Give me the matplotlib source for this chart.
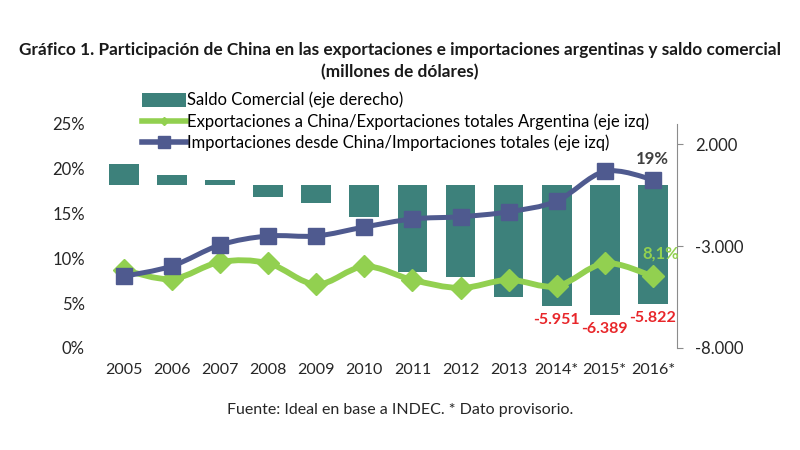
import numpy as np
import matplotlib
matplotlib.use("Agg")
import matplotlib.pyplot as plt
from matplotlib.path import Path
import matplotlib.patches as patches
from matplotlib.lines import Line2D
from matplotlib.ticker import FuncFormatter

# data
years = ["2005", "2006", "2007", "2008", "2009", "2010", "2011", "2012",
         "2013", "2014*", "2015*", "2016*"]
saldo = [1030, 490, 250, -580, -870, -1560, -4270, -4520, -5500, -5951, -6389, -5822]
expo_share = [8.7, 7.7, 9.6, 9.45, 7.1, 9.1, 7.6, 6.7, 7.6, 6.9, 9.45, 8.0]
impo_share = [8.0, 9.15, 11.5, 12.5, 12.5, 13.5, 14.4, 14.65, 15.2, 16.4, 19.7, 18.8]
saldo_labels = {9: "-5.951", 10: "-6.389", 11: "-5.822"}

teal = "#3d817b"
green = "#92d050"
navy = "#4f5a8f"
font = "Lato"

plt.rcParams['font.family'] = [font, 'DejaVu Sans']

fig = plt.figure(figsize=(8, 4.5), dpi=100, facecolor="white")
ax = fig.add_axes([0.125, 0.2267, 0.721, 0.4978])
axr = ax.twinx()
ax.set_zorder(axr.get_zorder() + 1)
ax.patch.set_visible(False)

x = np.arange(len(years))

# bars on the right axis
axr.bar(x, saldo, width=0.62, color=teal, zorder=1)
axr.set_ylim(-8000, 3000)
axr.set_yticks([-8000, -3000, 2000])
axr.yaxis.set_major_formatter(FuncFormatter(lambda v, p: f"{v:,.0f}".replace(",", ".")))
for s in ["top", "left", "bottom"]:
    axr.spines[s].set_visible(False)
axr.spines["right"].set_color("#8c8c8c")
axr.tick_params(axis="y", colors="#8c8c8c", labelcolor="#262626", labelsize=12,
                length=4, direction="out", pad=9)


def smooth_path(xs, ys):
    # Catmull-Rom style bezier through the points, like Excel smoothed lines
    pts = np.column_stack([xs, ys])
    verts = [tuple(pts[0])]
    codes = [Path.MOVETO]
    n = len(pts)
    for i in range(n - 1):
        p0 = pts[max(i - 1, 0)]
        p1 = pts[i]
        p2 = pts[i + 1]
        p3 = pts[min(i + 2, n - 1)]
        c1 = p1 + (p2 - p0) / 6.0
        c2 = p2 - (p3 - p1) / 6.0
        verts += [tuple(c1), tuple(c2), tuple(p2)]
        codes += [Path.CURVE4] * 3
    return Path(verts, codes)


ax.add_patch(patches.PathPatch(smooth_path(x, expo_share), facecolor="none",
                               edgecolor=green, lw=4.2, zorder=3))
ax.plot(x, expo_share, linestyle="none", marker="D", markersize=11,
        color=green, zorder=4)
ax.add_patch(patches.PathPatch(smooth_path(x, impo_share), facecolor="none",
                               edgecolor=navy, lw=3.6, zorder=5))
ax.plot(x, impo_share, linestyle="none", marker="s", markersize=11.5,
        color=navy, zorder=6)

ax.set_ylim(0, 25)
ax.set_yticks([0, 5, 10, 15, 20, 25])
ax.yaxis.set_major_formatter(FuncFormatter(lambda v, p: f"{v:.0f}%"))
ax.set_xlim(-0.5, len(years) - 0.5)
ax.set_xticks(x)
ax.set_xticklabels(years)
for s in ax.spines.values():
    s.set_visible(False)
ax.tick_params(axis="both", length=0, labelsize=12, labelcolor="#262626")
ax.tick_params(axis="x", labelsize=11.5, pad=11)
ax.tick_params(axis="y", pad=11)

# data labels
for i, txt in saldo_labels.items():
    axr.annotate(txt, (x[i], saldo[i]), xytext=(0, -5), textcoords="offset points",
                 ha="center", va="top", color="#e8262a", fontsize=11.5,
                 fontweight="bold")
ax.annotate("19%", (x[-1], impo_share[-1]), xytext=(0, 9), textcoords="offset points",
            ha="center", va="bottom", color="#404040", fontsize=12, fontweight="bold")
ax.annotate("8,1%", (x[-1], expo_share[-1]), xytext=(6, 11), textcoords="offset points",
            ha="center", va="bottom", color=green, fontsize=12, fontweight="bold",
            zorder=2)

# legend
handles = [patches.Patch(facecolor=teal, edgecolor="none"),
           Line2D([], [], color=green, lw=4, marker="D", markersize=4),
           Line2D([], [], color=navy, lw=4, marker="s", markersize=9)]
labels = ["Saldo Comercial (eje derecho)",
          "Exportaciones a China/Exportaciones totales Argentina (eje izq)",
          "Importaciones desde China/Importaciones totales (eje izq)"]
fig.legend(handles, labels, loc="upper left", bbox_to_anchor=(0.178, 0.796),
           frameon=False, fontsize=12, handlelength=2.6, handleheight=0.9,
           handletextpad=0.1, labelspacing=0.3, borderaxespad=0, borderpad=0)

fig.text(0.5, 0.888, "Gráfico 1. Participación de China en las exportaciones e importaciones argentinas y saldo comercial",
         ha="center", va="center", fontsize=12.4, fontweight="bold", color="#1a1a1a")
fig.text(0.5, 0.84, "(millones de dólares)", ha="center", va="center",
         fontsize=12.4, fontweight="bold", color="#1a1a1a")
fig.text(0.5, 0.088, "Fuente: Ideal en base a INDEC. * Dato provisorio.",
         ha="center", va="center", fontsize=11.5, color="#262626")

fig.savefig("out.png", dpi=100, facecolor="white")
